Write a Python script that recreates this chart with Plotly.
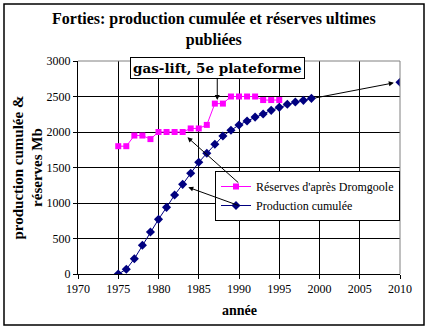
import plotly.graph_objects as go

years_res = list(range(1975, 1996))
reserves = [1800, 1800, 1950, 1950, 1900, 2000, 2000, 2000, 2000, 2050, 2050,
            2100, 2400, 2400, 2500, 2500, 2500, 2500, 2450, 2450, 2450]
years_prod = list(range(1975, 2000))
production = [0, 66, 215, 404, 592, 770, 939, 1113, 1263, 1418, 1573, 1700, 1827,
              1944, 2024, 2099, 2155, 2210, 2254, 2305, 2347, 2390, 2422, 2446, 2474]
ultimate_year = [2010]
ultimate_value = [2700]

x_ticks = list(range(1970, 2011, 5))
y_ticks = list(range(0, 3001, 500))

FONT = "Liberation Serif, Times New Roman, serif"
WIDE = "DejaVu Serif, serif"
MAG = "#FF00FF"
NAVY = "#000080"

fig = go.Figure()
fig.add_trace(go.Scatter(x=years_res, y=reserves, mode="lines+markers",
                         name="Réserves d'après Dromgoole",
                         line=dict(color=MAG, width=1),
                         marker=dict(symbol="square", size=6, color=MAG)))
fig.add_trace(go.Scatter(x=years_prod, y=production, mode="lines+markers",
                         name="Production cumulée",
                         line=dict(color=NAVY, width=1),
                         marker=dict(symbol="diamond", size=7, color=NAVY)))
fig.add_trace(go.Scatter(x=ultimate_year, y=ultimate_value, mode="markers",
                         showlegend=False,
                         marker=dict(symbol="diamond", size=7, color=NAVY)))

L, R, T, B = 78, 400, 61, 274
W, H = R - L, B - T


def px_x(p):
    return (p - L) / W


def px_y(p):
    return (B - p) / H


annos = [
    dict(text="<b>Forties: production cumulée et réserves ultimes<br>publiées</b>",
         x=px_x(214), y=px_y(29), xref="paper", yref="paper", showarrow=False,
         xanchor="center", yanchor="middle", font=dict(size=16, family=FONT, color="black")),
    dict(text="<b>production cumulée &<br>réserves Mb</b>", textangle=-90,
         x=px_x(27), y=0.5, xref="paper", yref="paper", showarrow=False,
         xanchor="center", yanchor="middle", font=dict(size=15, family=FONT, color="black")),
    dict(text="<b>année</b>", x=0.5, y=px_y(310), xref="paper", yref="paper",
         showarrow=False, xanchor="center", yanchor="middle",
         font=dict(size=14, family=FONT, color="black")),
    dict(text="<b>gas-lift, 5e plateforme</b>", x=1987.3, y=2451, xref="x", yref="y",
         ax=0, ay=-32, showarrow=True, arrowhead=2, arrowsize=1, arrowwidth=1,
         arrowcolor="black", bordercolor="black", borderwidth=1, borderpad=2,
         bgcolor="white", font=dict(size=13.5, family=WIDE, color="black")),
    dict(text="", x=1983.6, y=1925, ax=1990.1, ay=1268, xref="x", yref="y",
         axref="x", ayref="y", showarrow=True, arrowhead=2, arrowsize=1,
         arrowwidth=1, arrowcolor="black"),
    dict(text="", x=1983.7, y=1221, ax=1990.1, ay=958, xref="x", yref="y",
         axref="x", ayref="y", showarrow=True, arrowhead=2, arrowsize=1,
         arrowwidth=1, arrowcolor="black"),
    dict(text="", x=2009.6, y=2700, ax=1999.3, ay=2476, xref="x", yref="y",
         axref="x", ayref="y", showarrow=True, arrowhead=2, arrowsize=1,
         arrowwidth=1, arrowcolor="black", standoff=3),
]

shapes = [
    dict(type="rect", xref="paper", yref="paper", x0=px_x(4), x1=px_x(424),
         y0=px_y(325), y1=px_y(4), line=dict(color="black", width=1.5)),
    dict(type="line", xref="paper", yref="paper", x0=0, x1=1, y0=1, y1=1,
         line=dict(color="#808080", width=1), layer="above"),
    dict(type="line", xref="paper", yref="paper", x0=1, x1=1, y0=0, y1=1,
         line=dict(color="#808080", width=1), layer="above"),
]

fig.update_layout(
    width=430, height=332,
    margin=dict(l=L, r=430 - R, t=T, b=332 - B),
    paper_bgcolor="white", plot_bgcolor="white",
    font=dict(family=FONT, size=12, color="black"),
    showlegend=True,
    legend=dict(x=1.0, xanchor="right", y=px_y(171), yanchor="top",
                bgcolor="white", bordercolor="black", borderwidth=1,
                font=dict(size=12, family=FONT, color="black"),
                traceorder="normal"),
    annotations=annos,
    shapes=shapes,
)
fig.update_xaxes(range=[1970, 2010], tickvals=x_ticks, ticks="outside", ticklen=4,
                 tickcolor="black", showgrid=True, gridcolor="black", gridwidth=1,
                 showline=True, linecolor="black", linewidth=1, zeroline=False,
                 tickfont=dict(size=12, family=FONT, color="black"))
fig.update_yaxes(range=[0, 3000], tickvals=y_ticks, ticks="outside", ticklen=4,
                 tickcolor="black", showgrid=True, gridcolor="black", gridwidth=1,
                 showline=True, linecolor="black", linewidth=1, zeroline=False,
                 tickfont=dict(size=12, family=FONT, color="black"))

fig.write_html("out.html")
